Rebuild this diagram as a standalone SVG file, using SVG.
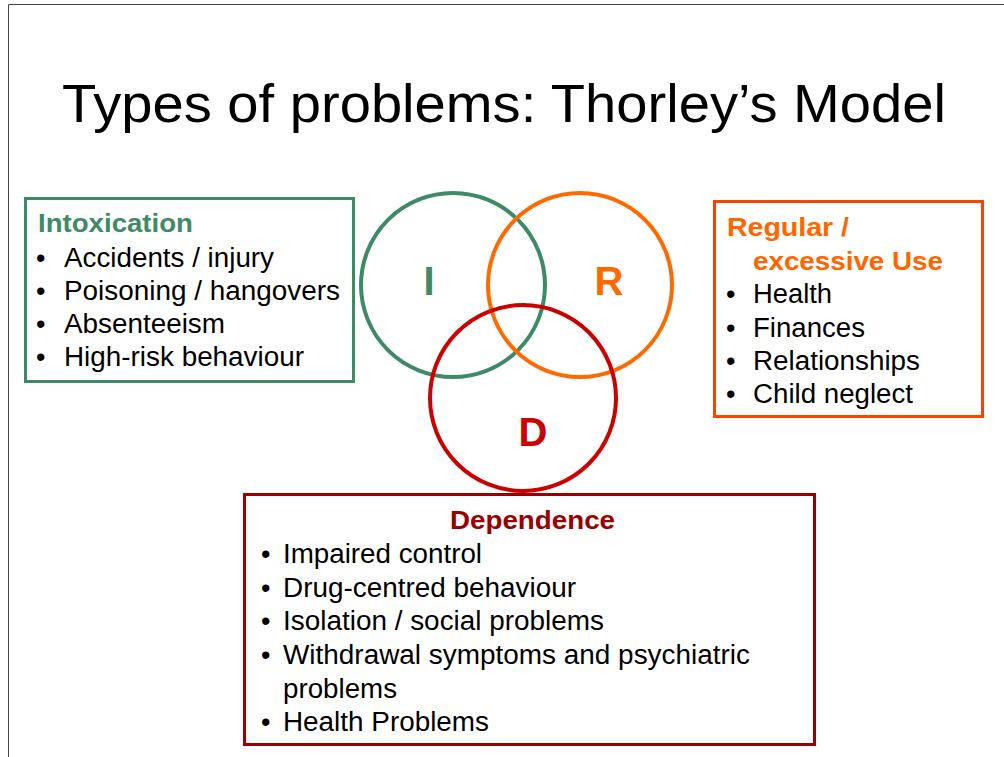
<svg xmlns="http://www.w3.org/2000/svg" width="1004" height="757" viewBox="0 0 1004 757">
<style>
text{font-family:"Liberation Sans",Arial,sans-serif}
.t{font-size:54px;fill:#000}
.b{font-size:27px;fill:#000}
.h{font-size:26px;font-weight:bold}
.l{font-size:40px;font-weight:bold}
.box{fill:#fff;stroke-width:3}
.c{fill:none;stroke-width:4}
</style>
<rect width="1004" height="757" fill="#fff"/>
<path d="M8.5 757V4.5H1004" fill="none" stroke="#444" stroke-width="1"/>
<text class="t" x="62" y="122" textLength="884" lengthAdjust="spacingAndGlyphs">Types of problems: Thorley’s Model</text>
<g id="intoxication">
<rect class="box" x="25.5" y="198.5" width="328" height="183" stroke="#3f8a66"/>
<text class="h" x="38" y="232" fill="#3f8a66" textLength="155" lengthAdjust="spacingAndGlyphs">Intoxication</text>
<g class="b">
<text x="36" y="267">•</text><text x="64" y="267" textLength="210" lengthAdjust="spacingAndGlyphs">Accidents / injury</text>
<text x="36" y="300">•</text><text x="64" y="300" textLength="276" lengthAdjust="spacingAndGlyphs">Poisoning / hangovers</text>
<text x="36" y="333">•</text><text x="64" y="333" textLength="161" lengthAdjust="spacingAndGlyphs">Absenteeism</text>
<text x="36" y="366">•</text><text x="64" y="366" textLength="240" lengthAdjust="spacingAndGlyphs">High-risk behaviour</text>
</g>
</g>
<g id="regular">
<rect class="box" x="714.5" y="201.5" width="268" height="215" stroke="#ff4000"/>
<text class="h" x="727" y="236" fill="#ff6600" textLength="122" lengthAdjust="spacingAndGlyphs">Regular /</text>
<text class="h" x="753" y="270" fill="#ff6600" textLength="190" lengthAdjust="spacingAndGlyphs">excessive Use</text>
<g class="b">
<text x="726" y="303">•</text><text x="753" y="303" textLength="79" lengthAdjust="spacingAndGlyphs">Health</text>
<text x="726" y="337">•</text><text x="753" y="337" textLength="112" lengthAdjust="spacingAndGlyphs">Finances</text>
<text x="726" y="370">•</text><text x="753" y="370" textLength="167" lengthAdjust="spacingAndGlyphs">Relationships</text>
<text x="726" y="403">•</text><text x="753" y="403" textLength="160" lengthAdjust="spacingAndGlyphs">Child neglect</text>
</g>
</g>
<g id="circle-I">
<circle class="c" cx="453" cy="285" r="92" stroke="#3f8a66"/>
<text class="l" x="429" y="295" fill="#3f8a66" text-anchor="middle">I</text>
</g>
<g id="circle-R">
<circle class="c" cx="580" cy="285" r="92" stroke="#ff6a00"/>
<text class="l" x="609" y="295" fill="#ff6a00" text-anchor="middle">R</text>
</g>
<g id="circle-D">
<circle class="c" cx="523" cy="398" r="93" stroke="#cc0000"/>
<text class="l" x="533" y="446" fill="#cc0000" text-anchor="middle">D</text>
</g>
<g id="dependence">
<rect class="box" x="244.5" y="494.5" width="570" height="250" stroke="#990000"/>
<text class="h" x="450" y="529" fill="#990000" textLength="165" lengthAdjust="spacingAndGlyphs">Dependence</text>
<g class="b">
<text x="261" y="563">•</text><text x="283" y="563" textLength="199" lengthAdjust="spacingAndGlyphs">Impaired control</text>
<text x="261" y="597">•</text><text x="283" y="597" textLength="293" lengthAdjust="spacingAndGlyphs">Drug-centred behaviour</text>
<text x="261" y="630">•</text><text x="283" y="630" textLength="321" lengthAdjust="spacingAndGlyphs">Isolation / social problems</text>
<text x="261" y="664">•</text><text x="283" y="664" textLength="467" lengthAdjust="spacingAndGlyphs">Withdrawal symptoms and psychiatric</text>
<text x="283" y="698" textLength="114" lengthAdjust="spacingAndGlyphs">problems</text>
<text x="261" y="731">•</text><text x="283" y="731" textLength="206" lengthAdjust="spacingAndGlyphs">Health Problems</text>
</g>
</g>
<g id="connectors"/>
</svg>
